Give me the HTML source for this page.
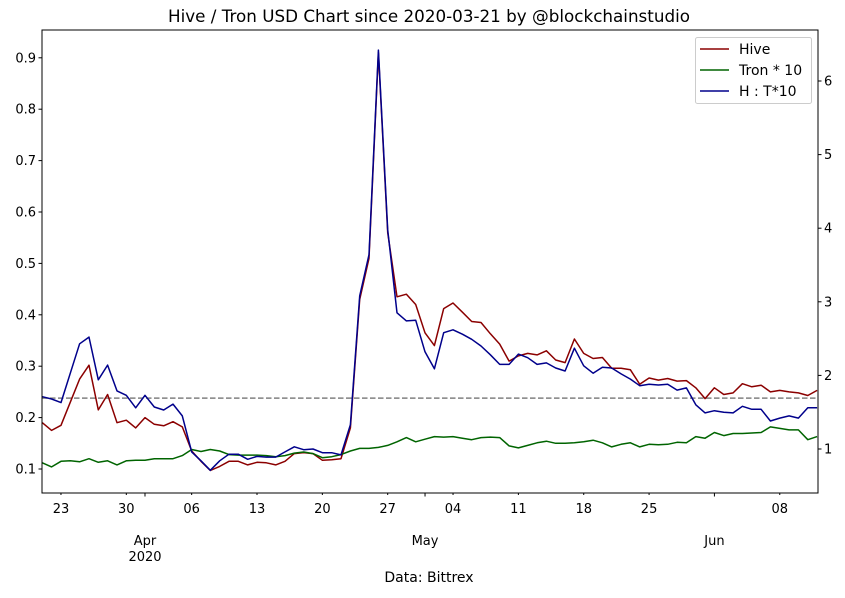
<!DOCTYPE html>
<html><head><meta charset="utf-8"><style>
body{margin:0;background:#fff;font-family:"DejaVu Sans","Liberation Sans",sans-serif;}
svg text{font-family:"DejaVu Sans","Liberation Sans",sans-serif;fill:#000;}
</style></head><body>
<svg id="chart" width="845" height="594" viewBox="0 0 845 594" xmlns="http://www.w3.org/2000/svg">
<text x="429" y="22" font-size="16.8" text-anchor="middle" textLength="522" lengthAdjust="spacingAndGlyphs">Hive / Tron USD Chart since 2020-03-21 by @blockchainstudio</text>
<text x="429" y="582" font-size="14" text-anchor="middle">Data: Bittrex</text>
<g id="plot"></g>
</svg>
<script>
const hive=[0.19,0.175,0.185,0.23,0.275,0.302,0.215,0.245,0.19,0.195,0.18,0.20,0.187,0.184,0.192,0.182,0.135,0.115,0.097,0.105,0.115,0.115,0.108,0.113,0.112,0.108,0.115,0.13,0.132,0.13,0.117,0.118,0.12,0.18,0.43,0.51,0.91,0.56,0.435,0.44,0.42,0.365,0.34,0.412,0.423,0.405,0.387,0.385,0.363,0.343,0.31,0.32,0.325,0.322,0.33,0.312,0.307,0.353,0.325,0.315,0.317,0.296,0.296,0.293,0.265,0.277,0.273,0.276,0.271,0.272,0.258,0.237,0.258,0.245,0.248,0.266,0.26,0.263,0.25,0.253,0.25,0.248,0.243,0.253];
const tron10=[0.112,0.104,0.115,0.116,0.114,0.12,0.113,0.116,0.108,0.116,0.117,0.117,0.12,0.12,0.12,0.126,0.138,0.134,0.138,0.135,0.128,0.127,0.127,0.127,0.126,0.124,0.126,0.131,0.133,0.13,0.122,0.124,0.128,0.135,0.14,0.14,0.142,0.146,0.153,0.161,0.153,0.158,0.163,0.162,0.163,0.16,0.157,0.161,0.162,0.161,0.145,0.141,0.146,0.151,0.154,0.15,0.15,0.151,0.153,0.156,0.151,0.143,0.148,0.151,0.143,0.148,0.147,0.148,0.152,0.151,0.163,0.16,0.171,0.165,0.169,0.169,0.17,0.171,0.182,0.179,0.176,0.176,0.157,0.163];
const ratio=[1.71,1.68,1.63,2.03,2.43,2.52,1.94,2.14,1.79,1.73,1.56,1.73,1.57,1.53,1.61,1.45,0.96,0.84,0.71,0.84,0.93,0.93,0.86,0.9,0.89,0.89,0.96,1.03,0.99,1.0,0.95,0.95,0.92,1.33,3.08,3.64,6.42,3.98,2.85,2.74,2.75,2.32,2.09,2.58,2.62,2.56,2.49,2.40,2.28,2.15,2.15,2.29,2.24,2.15,2.17,2.10,2.06,2.37,2.13,2.03,2.11,2.10,2.02,1.95,1.86,1.88,1.87,1.88,1.80,1.83,1.60,1.49,1.52,1.50,1.49,1.58,1.54,1.54,1.38,1.42,1.45,1.42,1.56,1.56];
const refLevel=0.238;
const leftTicks=[0.1,0.2,0.3,0.4,0.5,0.6,0.7,0.8,0.9];
const rightTicks=[1,2,3,4,5,6];
const dayTicks=[[2,"23"],[9,"30"],[16,"06"],[23,"13"],[30,"20"],[37,"27"],[44,"04"],[51,"11"],[58,"18"],[65,"25"],[79,"08"]];
const monthTicks=[[11,"Apr","2020"],[41,"May",""],[72,"Jun",""]];

const L=42,R=818,T=30,B=493;
const x=i=>L+0.3+i*9.335;
const yL=v=>469-(v-0.1)*514;
const yR=v=>449-(v-1)*73.6;
const NS="http://www.w3.org/2000/svg";
const g=document.getElementById('plot');
function mk(tag,attrs,parent){const e=document.createElementNS(NS,tag);for(const k in attrs)e.setAttribute(k,attrs[k]);(parent||g).appendChild(e);return e;}

const ref=mk('line',{x1:L,x2:R,y1:yL(refLevel),y2:yL(refLevel),stroke:'#808080','stroke-width':1.5,'stroke-dasharray':'5.5,2.5'});



function line(arr,yf,color,name){const p=mk('polyline',{points:arr.map((v,i)=>x(i).toFixed(1)+','+yf(v).toFixed(1)).join(' '),fill:'none',stroke:color,'stroke-width':1.5,'stroke-linejoin':'round'});

}
line(hive,yL,'#8b0000','hive-line');
line(tron10,yL,'#006400','tron-line');
line(ratio,yR,'#00008b','ratio-line');

const frame=mk('rect',{x:L,y:T,width:R-L,height:B-T,fill:'none',stroke:'#000','stroke-width':1});



leftTicks.forEach(v=>{const y=yL(v);mk('line',{x1:L-3.5,x2:L,y1:y,y2:y,stroke:'#000'});
const t=mk('text',{x:L-6,y:y+4.5,'font-size':13,'text-anchor':'end'});t.textContent=v.toFixed(1);

});
rightTicks.forEach(v=>{const y=yR(v);mk('line',{x1:R,x2:R+3.5,y1:y,y2:y,stroke:'#000'});
const t=mk('text',{x:R+6,y:y+4.5,'font-size':13});t.textContent=v;

});
dayTicks.forEach(([d,s])=>{const xx=x(d);mk('line',{x1:xx,x2:xx,y1:B,y2:B+2,stroke:'#000'});
const t=mk('text',{x:xx,y:B+20,'font-size':13,'text-anchor':'middle'});t.textContent=s;

});
monthTicks.forEach(([d,m,yv])=>{const xx=x(d);mk('line',{x1:xx,x2:xx,y1:B,y2:B+3.5,stroke:'#000'});
const t=mk('text',{x:xx,y:B+52,'font-size':13,'text-anchor':'middle'});t.textContent=m;


if(yv){const t2=mk('text',{x:xx,y:B+68,'font-size':13,'text-anchor':'middle'});t2.textContent=yv;

}});

const lg=mk('g',{});


mk('rect',{x:695.5,y:37.5,width:116,height:66,rx:2,fill:'#fff',stroke:'#ccc'},lg);
[['Hive','#8b0000'],['Tron * 10','#006400'],['H : T*10','#00008b']].forEach(([n,c],i)=>{const y=49+i*21;
mk('line',{x1:700,x2:729,y1:y,y2:y,stroke:c,'stroke-width':1.5},lg);
const t=mk('text',{x:739,y:y+5,'font-size':14},lg);t.textContent=n;

});
</script>
</body></html>
